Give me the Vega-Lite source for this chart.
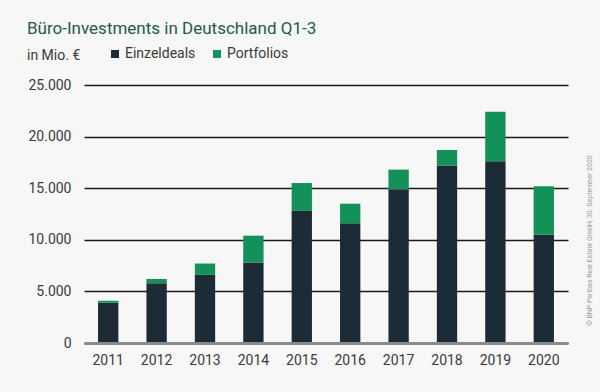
{
  "$schema": "https://vega.github.io/schema/vega-lite/v6.json",
  "autosize": "none",
  "width": 484,
  "height": 258,
  "padding": {"left": 84, "top": 85, "right": 32, "bottom": 49},
  "background": "#f7f7f7",
  "config": {
    "view": {"stroke": null},
    "font": "Roboto"
  },
  "title": {
    "text": "Büro-Investments in Deutschland Q1-3",
    "subtitle": "in Mio. €",
    "anchor": "start",
    "frame": "group",
    "dx": -57,
    "dy": 33,
    "offset": 16,
    "font": "Roboto",
    "fontSize": 17,
    "fontWeight": "normal",
    "color": "#1f5a46",
    "subtitleFont": "Roboto",
    "subtitleFontSize": 14,
    "subtitleColor": "#3a3a3a",
    "subtitlePadding": 11
  },
  "data": {
    "values": [
      {"jahr": "2011", "typ": "Einzeldeals", "wert": 3900},
      {"jahr": "2011", "typ": "Portfolios", "wert": 200},
      {"jahr": "2012", "typ": "Einzeldeals", "wert": 5800},
      {"jahr": "2012", "typ": "Portfolios", "wert": 400},
      {"jahr": "2013", "typ": "Einzeldeals", "wert": 6600},
      {"jahr": "2013", "typ": "Portfolios", "wert": 1100},
      {"jahr": "2014", "typ": "Einzeldeals", "wert": 7800},
      {"jahr": "2014", "typ": "Portfolios", "wert": 2600},
      {"jahr": "2015", "typ": "Einzeldeals", "wert": 12800},
      {"jahr": "2015", "typ": "Portfolios", "wert": 2700},
      {"jahr": "2016", "typ": "Einzeldeals", "wert": 11600},
      {"jahr": "2016", "typ": "Portfolios", "wert": 1900},
      {"jahr": "2017", "typ": "Einzeldeals", "wert": 14900},
      {"jahr": "2017", "typ": "Portfolios", "wert": 1900},
      {"jahr": "2018", "typ": "Einzeldeals", "wert": 17200},
      {"jahr": "2018", "typ": "Portfolios", "wert": 1500},
      {"jahr": "2019", "typ": "Einzeldeals", "wert": 17600},
      {"jahr": "2019", "typ": "Portfolios", "wert": 4800},
      {"jahr": "2020", "typ": "Einzeldeals", "wert": 10500},
      {"jahr": "2020", "typ": "Portfolios", "wert": 4700}
    ]
  },
  "encoding": {
    "x": {
      "field": "jahr",
      "type": "ordinal",
      "scale": {"paddingInner": 0.58, "paddingOuter": 0.29},
      "axis": {
        "title": null,
        "labelAngle": 0,
        "labelFontSize": 14,
        "labelColor": "#3a3a3a",
        "labelPadding": 10,
        "ticks": false,
        "domainColor": "#8a8a8a",
        "domainWidth": 3,
        "zindex": 2
      }
    },
    "y": {
      "field": "wert",
      "type": "quantitative",
      "aggregate": "sum",
      "stack": "zero",
      "scale": {"domain": [0, 25000]},
      "axis": {
        "title": null,
        "values": [0, 5000, 10000, 15000, 20000, 25000],
        "labelExpr": "replace(format(datum.value, ','), ',', '.')",
        "labelFontSize": 14,
        "labelColor": "#3a3a3a",
        "labelPadding": 13,
        "ticks": false,
        "domain": false,
        "grid": true,
        "gridColor": "#1a1a1a",
        "gridWidth": 1.5,
        "zindex": 0
      }
    },
    "color": {
      "field": "typ",
      "type": "nominal",
      "scale": {"domain": ["Einzeldeals", "Portfolios"], "range": ["#1c2b36", "#139158"]},
      "legend": {
        "title": null,
        "orient": "none",
        "direction": "horizontal",
        "legendX": 24,
        "legendY": -38,
        "symbolType": "square",
        "symbolSize": 64,
        "symbolStrokeWidth": 0,
        "labelFontSize": 14,
        "labelColor": "#3a3a3a",
        "labelOffset": 3,
        "columnPadding": 14
      }
    },
    "order": {"field": "typ", "sort": "ascending"}
  },
  "layer": [
    {"mark": {"type": "bar"}},
    {
      "mark": {"type": "bar", "opacity": 0},
      "encoding": {
        "y": {
          "field": "wert",
          "type": "quantitative",
          "aggregate": "sum",
          "stack": "zero",
          "axis": {
            "orient": "right",
            "title": "© BNP Paribas Real Estate GmbH, 30. September 2020",
            "titleAngle": 270,
            "titleFontSize": 7,
            "titleFontWeight": "normal",
            "titleColor": "#9a9a9a",
            "titleY": 155,
            "titleX": 21,
            "titleBaseline": "middle",
            "labels": false,
            "ticks": false,
            "domain": false,
            "grid": false
          }
        }
      }
    }
  ],
  "resolve": {"axis": {"y": "independent"}}
}
